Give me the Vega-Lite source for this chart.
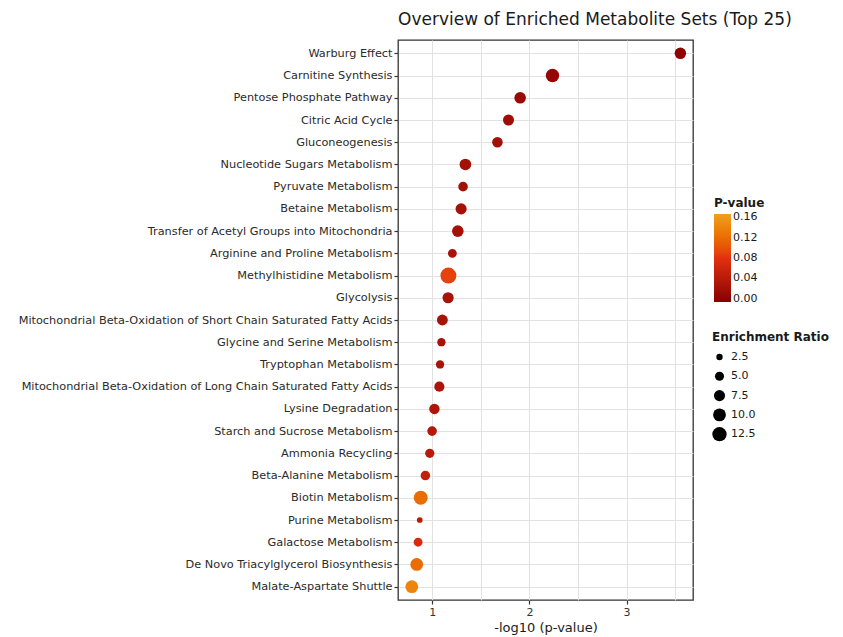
{
  "$schema": "https://vega.github.io/schema/vega-lite/v6.json",
  "autosize": {"type": "none"},
  "padding": {"left": 398, "top": 40, "right": 150, "bottom": 37},
  "width": 295,
  "height": 560,
  "background": "white",
  "title": {
    "text": "Overview of Enriched Metabolite Sets (Top 25)",
    "anchor": "start",
    "frame": "group",
    "font": "DejaVu Sans",
    "fontSize": 17,
    "fontWeight": "normal",
    "color": "#1a1a1a",
    "offset": 11
  },
  "config": {
    "view": {"stroke": "#333333", "strokeWidth": 1.3},
    "font": "DejaVu Sans"
  },
  "data": {
    "values": [
      {"set": "Warburg Effect", "neglog10p": 3.554, "pvalue": 0.0003, "ratio": 8.0},
      {"set": "Carnitine Synthesis", "neglog10p": 2.237, "pvalue": 0.006, "ratio": 10.9},
      {"set": "Pentose Phosphate Pathway", "neglog10p": 1.904, "pvalue": 0.012, "ratio": 8.2},
      {"set": "Citric Acid Cycle", "neglog10p": 1.784, "pvalue": 0.016, "ratio": 7.4},
      {"set": "Gluconeogenesis", "neglog10p": 1.670, "pvalue": 0.021, "ratio": 6.8},
      {"set": "Nucleotide Sugars Metabolism", "neglog10p": 1.340, "pvalue": 0.02, "ratio": 8.2},
      {"set": "Pyruvate Metabolism", "neglog10p": 1.316, "pvalue": 0.02, "ratio": 5.6},
      {"set": "Betaine Metabolism", "neglog10p": 1.296, "pvalue": 0.022, "ratio": 7.6},
      {"set": "Transfer of Acetyl Groups into Mitochondria", "neglog10p": 1.262, "pvalue": 0.022, "ratio": 8.2},
      {"set": "Arginine and Proline Metabolism", "neglog10p": 1.206, "pvalue": 0.025, "ratio": 4.8},
      {"set": "Methylhistidine Metabolism", "neglog10p": 1.165, "pvalue": 0.09, "ratio": 15.5},
      {"set": "Glycolysis", "neglog10p": 1.162, "pvalue": 0.025, "ratio": 7.6},
      {"set": "Mitochondrial Beta-Oxidation of Short Chain Saturated Fatty Acids", "neglog10p": 1.103, "pvalue": 0.025, "ratio": 7.2},
      {"set": "Glycine and Serine Metabolism", "neglog10p": 1.093, "pvalue": 0.025, "ratio": 4.2},
      {"set": "Tryptophan Metabolism", "neglog10p": 1.079, "pvalue": 0.025, "ratio": 4.2},
      {"set": "Mitochondrial Beta-Oxidation of Long Chain Saturated Fatty Acids", "neglog10p": 1.072, "pvalue": 0.03, "ratio": 6.3},
      {"set": "Lysine Degradation", "neglog10p": 1.021, "pvalue": 0.03, "ratio": 6.7},
      {"set": "Starch and Sucrose Metabolism", "neglog10p": 0.997, "pvalue": 0.035, "ratio": 5.6},
      {"set": "Ammonia Recycling", "neglog10p": 0.973, "pvalue": 0.04, "ratio": 5.2},
      {"set": "Beta-Alanine Metabolism", "neglog10p": 0.928, "pvalue": 0.05, "ratio": 5.6},
      {"set": "Biotin Metabolism", "neglog10p": 0.880, "pvalue": 0.12, "ratio": 12.0},
      {"set": "Purine Metabolism", "neglog10p": 0.870, "pvalue": 0.04, "ratio": 2.0},
      {"set": "Galactose Metabolism", "neglog10p": 0.853, "pvalue": 0.07, "ratio": 4.8},
      {"set": "De Novo Triacylglycerol Biosynthesis", "neglog10p": 0.839, "pvalue": 0.12, "ratio": 9.9},
      {"set": "Malate-Aspartate Shuttle", "neglog10p": 0.788, "pvalue": 0.14, "ratio": 9.9}
    ]
  },
  "mark": {"type": "circle", "opacity": 1},
  "encoding": {
    "y": {
      "field": "set",
      "type": "nominal",
      "sort": null,
      "scale": {"type": "point", "padding": 0.6},
      "axis": {
        "title": null,
        "labelFont": "DejaVu Sans",
        "labelFontSize": 11.3,
        "labelColor": "#2a2a2a",
        "labelLimit": 500,
        "labelPadding": 2,
        "tickSize": 4,
        "tickColor": "#333333",
        "tickWidth": 1.2,
        "domain": false,
        "grid": true,
        "gridColor": "#e2e2e2",
        "gridWidth": 1
      }
    },
    "x": {
      "field": "neglog10p",
      "type": "quantitative",
      "scale": {"domain": [0.646, 3.684], "nice": false, "zero": false},
      "axis": {
        "title": "-log10 (p-value)",
        "titleFont": "DejaVu Sans",
        "titleFontSize": 13,
        "titleFontWeight": "normal",
        "titleColor": "#1a1a1a",
        "titlePadding": 4,
        "values": [1, 1.5, 2, 2.5, 3, 3.5],
        "labelExpr": "datum.value % 1 == 0 ? format(datum.value, 'd') : ''",
        "labelFont": "DejaVu Sans",
        "labelFontSize": 11,
        "labelColor": "#333333",
        "labelPadding": 2,
        "tickSize": 4,
        "tickColor": "#333333",
        "tickWidth": 1.2,
        "tickOpacity": {"condition": {"test": "datum.value % 1 != 0", "value": 0}, "value": 1},
        "domain": false,
        "grid": true,
        "gridColor": "#e2e2e2",
        "gridWidth": 1
      }
    },
    "color": {
      "field": "pvalue",
      "type": "quantitative",
      "scale": {"domain": [-0.006, 0.166], "range": ["#880000", "#e3300f", "#efa020"]},
      "legend": {
        "title": "P-value",
        "orient": "none",
        "legendX": 316,
        "legendY": 158,
        "titleFont": "DejaVu Sans",
        "titleFontSize": 12,
        "titleFontWeight": "bold",
        "titleColor": "#1a1a1a",
        "titlePadding": 4,
        "values": [0, 0.04, 0.08, 0.12, 0.16],
        "format": ".2f",
        "labelOverlap": false,
        "labelFont": "DejaVu Sans",
        "labelFontSize": 11,
        "labelColor": "#1a1a1a",
        "gradientLength": 88,
        "gradientThickness": 17,
        "gradientStrokeWidth": 0,
        "direction": "vertical"
      }
    },
    "size": {
      "field": "ratio",
      "type": "quantitative",
      "scale": {"domain": [0, 12.5], "range": [0, 205]},
      "legend": {
        "title": "Enrichment Ratio",
        "orient": "none",
        "legendX": 314,
        "legendY": 292,
        "titleFont": "DejaVu Sans",
        "titleFontSize": 12,
        "titleFontWeight": "bold",
        "titleColor": "#1a1a1a",
        "titlePadding": 5,
        "values": [2.5, 5, 7.5, 10, 12.5],
        "format": ".1f",
        "labelFont": "DejaVu Sans",
        "labelFontSize": 11,
        "labelColor": "#1a1a1a",
        "symbolFillColor": "black",
        "symbolStrokeWidth": 0,
        "symbolType": "circle",
        "clipHeight": 16,
        "rowPadding": 3.3
      }
    }
  }
}
